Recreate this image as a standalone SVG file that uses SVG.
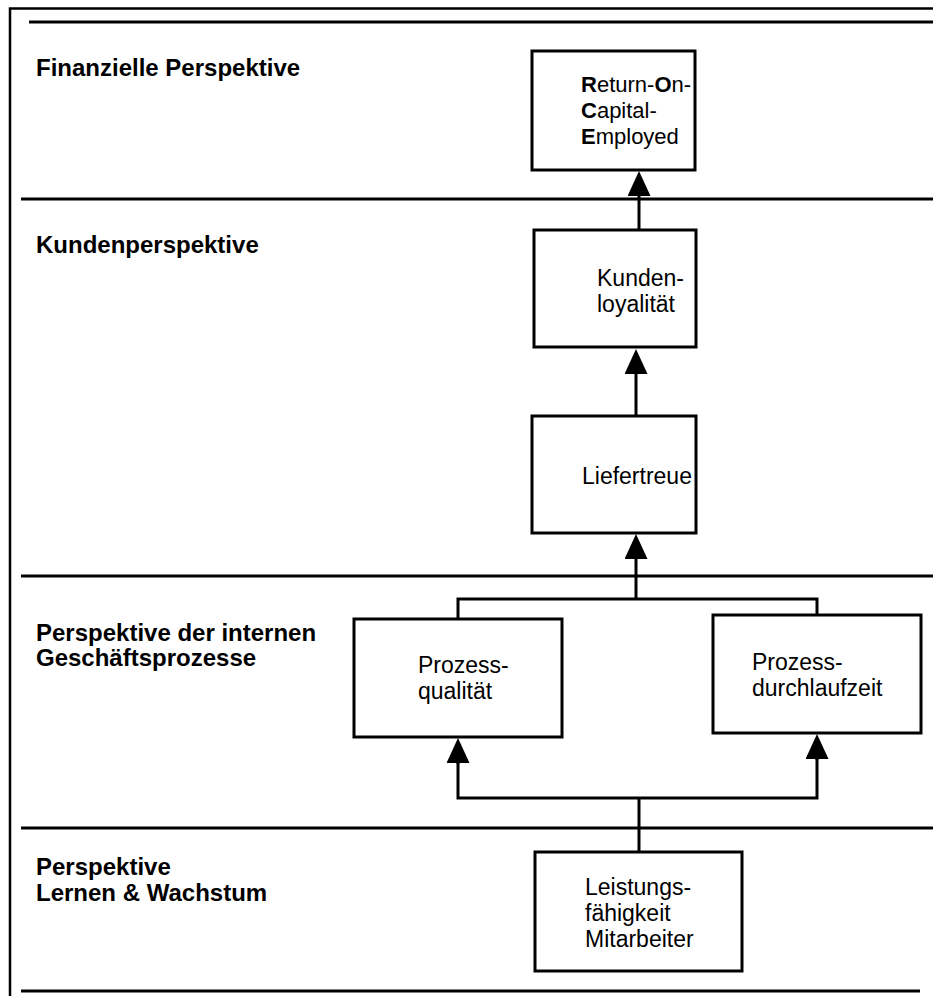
<svg xmlns="http://www.w3.org/2000/svg" width="933" height="996" viewBox="0 0 933 996">
<style>
  .sep{stroke:#000;stroke-width:3;fill:none}
  .frame{stroke:#000;stroke-width:2.5;fill:none}
  .box{fill:#fff;stroke:#000;stroke-width:3}
  .conn{stroke:#000;stroke-width:3;fill:none}
  .h{font-family:"Liberation Sans",Arial,sans-serif;font-weight:bold;font-size:24px;fill:#000}
  .t{font-family:"Liberation Sans",Arial,sans-serif;font-size:23px;fill:#000}
  .s{font-size:22px}
  .b{font-weight:bold}
</style>
<defs>
  <marker id="arr" markerUnits="userSpaceOnUse" viewBox="0 0 25 23" refX="0" refY="11.5" markerWidth="25" markerHeight="23" orient="auto">
    <path d="M0,0 L25,11.5 L0,23 Z" fill="#000"/>
  </marker>
</defs>
<rect width="933" height="996" fill="#fff"/>
<g id="frame">
  <path class="frame" d="M10,996 V8.5 H933"/>
  <line class="sep" x1="29" y1="22" x2="933" y2="22"/>
  <line class="sep" x1="21" y1="199" x2="933" y2="199"/>
  <line class="sep" x1="21" y1="576" x2="933" y2="576"/>
  <line class="sep" x1="21" y1="828" x2="933" y2="828"/>
  <line class="sep" x1="21" y1="991" x2="920" y2="991"/>
</g>
<g id="labels">
  <text class="h" x="36" y="76">Finanzielle Perspektive</text>
  <text class="h" x="36" y="253">Kundenperspektive</text>
  <text class="h" x="36" y="641">Perspektive der internen</text>
  <text class="h" x="36" y="666">Geschäftsprozesse</text>
  <text class="h" x="36" y="875">Perspektive</text>
  <text class="h" x="36" y="901">Lernen &amp; Wachstum</text>
</g>
<g id="connectors">
  <line class="conn" x1="639" y1="230" x2="639" y2="196" marker-end="url(#arr)"/>
  <line class="conn" x1="636" y1="416" x2="636" y2="374" marker-end="url(#arr)"/>
  <path class="conn" d="M458,619 V599 H817 V615"/>
  <line class="conn" x1="636" y1="599" x2="636" y2="559" marker-end="url(#arr)"/>
  <line class="conn" x1="639" y1="852" x2="639" y2="798"/>
  <path class="conn" d="M458,763 V798 H817 V759"/>
  <line class="conn" x1="458" y1="764" x2="458" y2="763" marker-end="url(#arr)"/>
  <line class="conn" x1="817" y1="760" x2="817" y2="759" marker-end="url(#arr)"/>
</g>
<g id="roce">
  <rect class="box" x="532" y="51" width="163" height="119"/>
  <text class="t s" x="581" y="92"><tspan class="b">R</tspan>eturn-<tspan class="b">O</tspan>n-</text>
  <text class="t s" x="581" y="118"><tspan class="b">C</tspan>apital-</text>
  <text class="t s" x="581" y="144"><tspan class="b">E</tspan>mployed</text>
</g>
<g id="kundenloyalitaet">
  <rect class="box" x="534" y="230" width="162" height="117"/>
  <text class="t" x="597" y="286">Kunden-</text>
  <text class="t" x="597" y="312">loyalität</text>
</g>
<g id="liefertreue">
  <rect class="box" x="532" y="416" width="164" height="117"/>
  <text class="t" x="582" y="484">Liefertreue</text>
</g>
<g id="prozessqualitaet">
  <rect class="box" x="354" y="619" width="208" height="118"/>
  <text class="t" x="418" y="673">Prozess-</text>
  <text class="t" x="418" y="699">qualität</text>
</g>
<g id="prozessdurchlaufzeit">
  <rect class="box" x="713" y="615" width="208" height="118"/>
  <text class="t" x="752" y="670">Prozess-</text>
  <text class="t" x="752" y="696">durchlaufzeit</text>
</g>
<g id="leistungsfaehigkeit">
  <rect class="box" x="535" y="852" width="207" height="119"/>
  <text class="t" x="585" y="895">Leistungs-</text>
  <text class="t" x="585" y="921">fähigkeit</text>
  <text class="t" x="585" y="947">Mitarbeiter</text>
</g>
</svg>
